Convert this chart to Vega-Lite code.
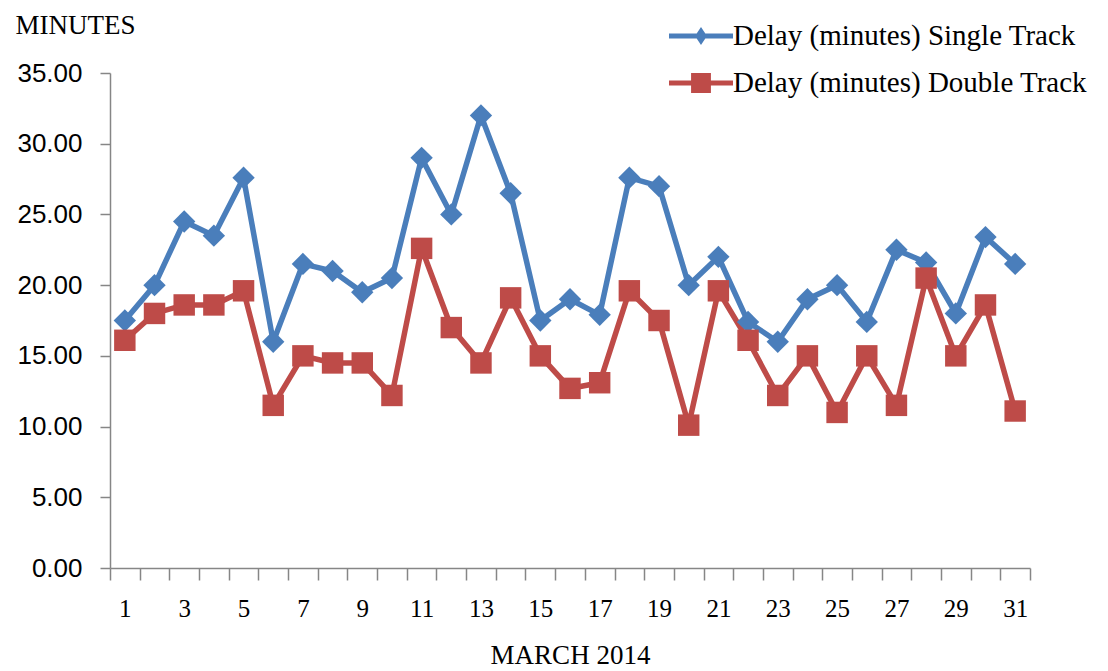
{
  "$schema": "https://vega.github.io/schema/vega-lite/v6.json",
  "width": 920,
  "height": 495,
  "autosize": {"type": "none"},
  "padding": {"left": 110, "top": 73, "right": 78, "bottom": 103},
  "background": "white",
  "config": {"view": {"stroke": null}},
  "data": {
    "values": [
      {"day": 1, "series": "Delay (minutes) Single Track", "minutes": 17.5},
      {"day": 2, "series": "Delay (minutes) Single Track", "minutes": 20.0},
      {"day": 3, "series": "Delay (minutes) Single Track", "minutes": 24.5},
      {"day": 4, "series": "Delay (minutes) Single Track", "minutes": 23.5},
      {"day": 5, "series": "Delay (minutes) Single Track", "minutes": 27.6},
      {"day": 6, "series": "Delay (minutes) Single Track", "minutes": 16.0},
      {"day": 7, "series": "Delay (minutes) Single Track", "minutes": 21.5},
      {"day": 8, "series": "Delay (minutes) Single Track", "minutes": 21.0},
      {"day": 9, "series": "Delay (minutes) Single Track", "minutes": 19.5},
      {"day": 10, "series": "Delay (minutes) Single Track", "minutes": 20.5},
      {"day": 11, "series": "Delay (minutes) Single Track", "minutes": 29.0},
      {"day": 12, "series": "Delay (minutes) Single Track", "minutes": 25.0},
      {"day": 13, "series": "Delay (minutes) Single Track", "minutes": 32.0},
      {"day": 14, "series": "Delay (minutes) Single Track", "minutes": 26.5},
      {"day": 15, "series": "Delay (minutes) Single Track", "minutes": 17.5},
      {"day": 16, "series": "Delay (minutes) Single Track", "minutes": 19.0},
      {"day": 17, "series": "Delay (minutes) Single Track", "minutes": 17.9},
      {"day": 18, "series": "Delay (minutes) Single Track", "minutes": 27.6},
      {"day": 19, "series": "Delay (minutes) Single Track", "minutes": 27.0},
      {"day": 20, "series": "Delay (minutes) Single Track", "minutes": 20.0},
      {"day": 21, "series": "Delay (minutes) Single Track", "minutes": 22.0},
      {"day": 22, "series": "Delay (minutes) Single Track", "minutes": 17.4},
      {"day": 23, "series": "Delay (minutes) Single Track", "minutes": 16.0},
      {"day": 24, "series": "Delay (minutes) Single Track", "minutes": 19.0},
      {"day": 25, "series": "Delay (minutes) Single Track", "minutes": 20.0},
      {"day": 26, "series": "Delay (minutes) Single Track", "minutes": 17.4},
      {"day": 27, "series": "Delay (minutes) Single Track", "minutes": 22.5},
      {"day": 28, "series": "Delay (minutes) Single Track", "minutes": 21.6},
      {"day": 29, "series": "Delay (minutes) Single Track", "minutes": 18.0},
      {"day": 30, "series": "Delay (minutes) Single Track", "minutes": 23.4},
      {"day": 31, "series": "Delay (minutes) Single Track", "minutes": 21.5},
      {"day": 1, "series": "Delay (minutes) Double Track", "minutes": 16.1},
      {"day": 2, "series": "Delay (minutes) Double Track", "minutes": 18.0},
      {"day": 3, "series": "Delay (minutes) Double Track", "minutes": 18.6},
      {"day": 4, "series": "Delay (minutes) Double Track", "minutes": 18.6},
      {"day": 5, "series": "Delay (minutes) Double Track", "minutes": 19.6},
      {"day": 6, "series": "Delay (minutes) Double Track", "minutes": 11.5},
      {"day": 7, "series": "Delay (minutes) Double Track", "minutes": 15.0},
      {"day": 8, "series": "Delay (minutes) Double Track", "minutes": 14.5},
      {"day": 9, "series": "Delay (minutes) Double Track", "minutes": 14.5},
      {"day": 10, "series": "Delay (minutes) Double Track", "minutes": 12.2},
      {"day": 11, "series": "Delay (minutes) Double Track", "minutes": 22.6},
      {"day": 12, "series": "Delay (minutes) Double Track", "minutes": 17.0},
      {"day": 13, "series": "Delay (minutes) Double Track", "minutes": 14.5},
      {"day": 14, "series": "Delay (minutes) Double Track", "minutes": 19.1},
      {"day": 15, "series": "Delay (minutes) Double Track", "minutes": 15.0},
      {"day": 16, "series": "Delay (minutes) Double Track", "minutes": 12.7},
      {"day": 17, "series": "Delay (minutes) Double Track", "minutes": 13.1},
      {"day": 18, "series": "Delay (minutes) Double Track", "minutes": 19.6},
      {"day": 19, "series": "Delay (minutes) Double Track", "minutes": 17.5},
      {"day": 20, "series": "Delay (minutes) Double Track", "minutes": 10.1},
      {"day": 21, "series": "Delay (minutes) Double Track", "minutes": 19.6},
      {"day": 22, "series": "Delay (minutes) Double Track", "minutes": 16.1},
      {"day": 23, "series": "Delay (minutes) Double Track", "minutes": 12.2},
      {"day": 24, "series": "Delay (minutes) Double Track", "minutes": 15.0},
      {"day": 25, "series": "Delay (minutes) Double Track", "minutes": 11.0},
      {"day": 26, "series": "Delay (minutes) Double Track", "minutes": 15.0},
      {"day": 27, "series": "Delay (minutes) Double Track", "minutes": 11.5},
      {"day": 28, "series": "Delay (minutes) Double Track", "minutes": 20.5},
      {"day": 29, "series": "Delay (minutes) Double Track", "minutes": 15.0},
      {"day": 30, "series": "Delay (minutes) Double Track", "minutes": 18.6},
      {"day": 31, "series": "Delay (minutes) Double Track", "minutes": 11.1}
    ]
  },
  "encoding": {
    "x": {
      "field": "day",
      "type": "ordinal",
      "scale": {"type": "band", "paddingInner": 0, "paddingOuter": 0},
      "axis": {
        "title": "MARCH 2014",
        "tickBand": "extent",
        "tickSize": 12,
        "tickWidth": 1.5,
        "tickColor": "#868686",
        "domainColor": "#868686",
        "domainWidth": 1.5,
        "labelAngle": 0,
        "labelExpr": "datum.value % 2 == 1 ? datum.label : ''",
        "labelFont": "Liberation Serif",
        "labelFontSize": 25,
        "labelColor": "#000000",
        "labelPadding": 16,
        "titleFont": "Liberation Serif",
        "titleFontSize": 27,
        "titleFontWeight": "normal",
        "titleColor": "#000000",
        "titleBaseline": "top",
        "titleY": 74
      }
    },
    "y": {
      "field": "minutes",
      "type": "quantitative",
      "scale": {"domain": [0, 35], "nice": false},
      "axis": {
        "values": [0, 5, 10, 15, 20, 25, 30, 35],
        "format": ".2f",
        "grid": false,
        "tickSize": 10,
        "tickWidth": 1.5,
        "tickColor": "#868686",
        "domainColor": "#868686",
        "domainWidth": 1.5,
        "labelFont": "Liberation Sans",
        "labelFontSize": 26,
        "labelColor": "#000000",
        "labelPadding": 18,
        "title": "MINUTES",
        "titleAngle": 0,
        "titleAlign": "left",
        "titleBaseline": "alphabetic",
        "titleX": -95,
        "titleY": -40,
        "titleFont": "Liberation Serif",
        "titleFontSize": 27,
        "titleFontWeight": "normal",
        "titleColor": "#000000"
      }
    },
    "color": {
      "field": "series",
      "type": "nominal",
      "scale": {
        "domain": ["Delay (minutes) Single Track", "Delay (minutes) Double Track"],
        "range": ["#4A7EBB", "#BE4B48"]
      },
      "legend": {
        "orient": "none",
        "legendX": 575,
        "legendY": -53,
        "title": null,
        "padding": 0,
        "labelFont": "Liberation Serif",
        "labelFontSize": 29,
        "labelColor": "#000000",
        "labelLimit": 600,
        "labelOffset": 16,
        "rowPadding": 16,
        "symbolSize": 1024,
        "symbolStrokeWidth": 0,
        "encode": {
          "symbols": {
            "update": {
              "shape": {"signal": "datum.value === 'Delay (minutes) Single Track' ? 'M-2,-0.16L-0.27,-0.16L0,-0.56L0.27,-0.16L2,-0.16L2,0.16L0.27,0.16L0,0.56L-0.27,0.16L-2,0.16Z' : 'M-2,-0.16L-0.62,-0.16L-0.62,-0.62L0.62,-0.62L0.62,-0.16L2,-0.16L2,0.16L0.62,0.16L0.62,0.62L-0.62,0.62L-0.62,0.16L-2,0.16Z'"},
              "fill": {"signal": "datum.value === 'Delay (minutes) Single Track' ? '#4A7EBB' : '#BE4B48'"},
              "stroke": {"value": "transparent"},
              "opacity": {"value": 1}
            }
          }
        }
      }
    }
  },
  "layer": [
    {
      "mark": {"type": "line", "strokeWidth": 5.5}
    },
    {
      "transform": [{"filter": "datum.series === 'Delay (minutes) Single Track'"}],
      "mark": {"type": "point", "filled": true, "opacity": 1, "size": 500, "shape": "diamond"}
    },
    {
      "transform": [{"filter": "datum.series === 'Delay (minutes) Double Track'"}],
      "mark": {"type": "point", "filled": true, "opacity": 1, "size": 460, "shape": "square"}
    }
  ]
}
